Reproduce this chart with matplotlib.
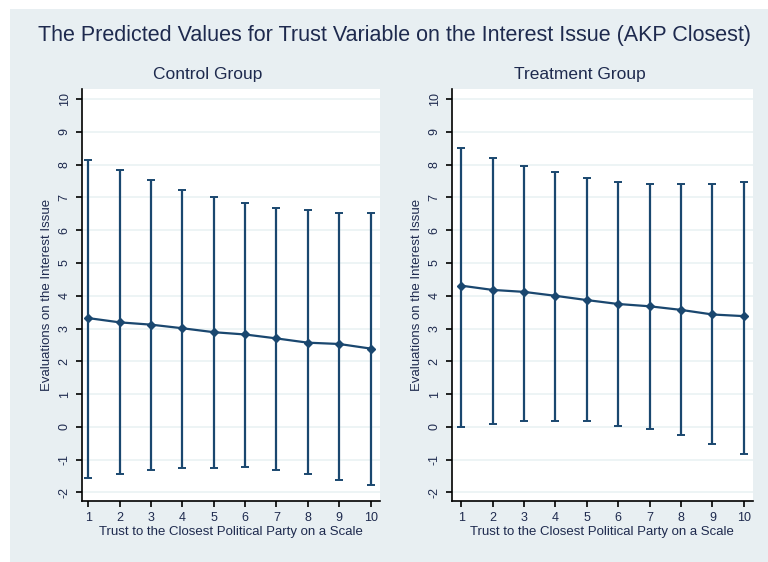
import matplotlib.pyplot as plt
import matplotlib.patches as patches

plt.rcParams['font.family'] = ['Liberation Sans', 'DejaVu Sans']
plt.rcParams['axes.unicode_minus'] = False

trust = [1, 2, 3, 4, 5, 6, 7, 8, 9, 10]

# control group: predicted value and CI bounds
ctrl_mean = [3.32, 3.19, 3.12, 3.01, 2.89, 2.82, 2.70, 2.57, 2.53, 2.39]
ctrl_hi = [8.13, 7.83, 7.53, 7.23, 7.02, 6.84, 6.67, 6.61, 6.54, 6.54]
ctrl_lo = [-1.55, -1.43, -1.30, -1.24, -1.24, -1.22, -1.30, -1.43, -1.62, -1.78]

# treatment group
treat_mean = [4.31, 4.18, 4.12, 4.00, 3.87, 3.75, 3.68, 3.57, 3.43, 3.38]
treat_hi = [8.51, 8.20, 7.95, 7.77, 7.58, 7.46, 7.40, 7.40, 7.40, 7.46]
treat_lo = [0.00, 0.10, 0.17, 0.17, 0.17, 0.04, -0.07, -0.25, -0.51, -0.82]

navy = '#1a476f'
bg = '#e8eff2'
txt = '#1e2a4e'

fig = plt.figure(figsize=(7.68, 5.62), dpi=100)
fig.patch.set_facecolor('white')
fig.add_artist(patches.Rectangle((10 / 768, 0), 1, 1 - 9 / 562, transform=fig.transFigure,
                                 facecolor=bg, edgecolor='none', zorder=0))

fig.text(395 / 768, 1 - 35 / 562, 'The Predicted Values for Trust Variable on the Interest Issue (AKP Closest)',
         ha='center', va='center', fontsize=15.5, color=txt)


def panel(rect, xlim, mean, lo, hi, title, title_x):
    ax = fig.add_axes(rect)
    ax.set_facecolor('white')
    low_err = [m - l for m, l in zip(mean, lo)]
    high_err = [h - m for m, h in zip(mean, hi)]
    ax.errorbar(trust, mean, yerr=[low_err, high_err], fmt='none', ecolor=navy,
                elinewidth=1.6, capsize=3, capthick=1.4, zorder=3)
    ax.plot(trust, mean, color=navy, lw=1.6, marker='D', ms=4.5, zorder=4)
    ax.set_xlim(*xlim)
    ax.set_ylim(-2.26, 10.3)
    ax.set_xticks(trust)
    ax.set_yticks(range(-2, 11))
    ax.grid(axis='y', color='#eaf2f3', lw=1.2)
    ax.set_axisbelow(True)
    for s in ['top', 'right']:
        ax.spines[s].set_visible(False)
    for s in ['left', 'bottom']:
        ax.spines[s].set_linewidth(1.2)
    ax.tick_params(axis='both', length=4, width=1.2, labelsize=9, labelcolor=txt)
    ax.tick_params(axis='x', pad=4)
    ax.tick_params(axis='y', pad=4)
    for lab in ax.get_yticklabels():
        lab.set_rotation(90)
        lab.set_va('center')
    ax.set_xlabel('Trust to the Closest Political Party on a Scale', fontsize=9.5, color=txt, labelpad=1)
    ax.set_ylabel('Evaluations on the Interest Issue', fontsize=9.5, color=txt, labelpad=4)
    fig.text(title_x / 768, 1 - 75 / 562, title, ha='center', va='center', fontsize=12.5, color=txt)
    return ax


panel([81.7 / 768, 1 - 501 / 562, 298.3 / 768, 411.7 / 562], (0.79, 10.30),
      ctrl_mean, ctrl_lo, ctrl_hi, 'Control Group', 208)
panel([451.7 / 768, 1 - 501 / 562, 301 / 768, 411.7 / 562], (0.70, 10.28),
      treat_mean, treat_lo, treat_hi, 'Treatment Group', 580)

fig.savefig('out.png', dpi=100, facecolor=fig.get_facecolor())
